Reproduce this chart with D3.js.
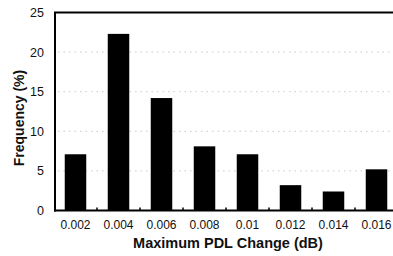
<!DOCTYPE html>
<html>
<head>
<meta charset="utf-8">
<script src="https://cdn.jsdelivr.net/npm/d3@7"></script>
<style>
  html,body{margin:0;padding:0;background:#fff}
  svg{display:block}
</style>
</head>
<body>
<div id="chart"></div>
<script>
// data
const CATS   = ['0.002','0.004','0.006','0.008','0.01','0.012','0.014','0.016'];
const FREQ   = [7.1, 22.3, 14.2, 8.1, 7.1, 3.2, 2.4, 5.2];
const YTICKS = [0, 5, 10, 15, 20, 25];
const GRID   = [5, 10, 15, 20];

const W=393, H=256;
const L=55, R=393, T=12.5, B=210.5;
const FONT='Liberation Sans, Arial, sans-serif';

const svg=d3.select('#chart').append('svg').attr('width',W).attr('height',H);

const x=d3.scaleBand().domain(CATS).range([54,398]).paddingInner(.5).paddingOuter(.25);
const y=d3.scaleLinear().domain([0,25]).range([B,T]);

// faint dotted grid
svg.append('g').selectAll('line').data(GRID).join('line')
  .attr('x1',L+3).attr('x2',R).attr('y1',d=>y(d)).attr('y2',d=>y(d))
  .attr('stroke','#bbb').attr('stroke-width',.8).attr('stroke-dasharray','1.5,4');

// bars
svg.append('g').selectAll('rect').data(FREQ).join('rect')
  .attr('x',(d,i)=>x(CATS[i])).attr('width',x.bandwidth())
  .attr('y',d=>y(d)).attr('height',d=>B-y(d))
  .attr('fill','#000');

// frame: left, top, bottom
svg.append('line').attr('x1',L).attr('x2',L).attr('y1',T-0.5).attr('y2',B+1)
  .attr('stroke','#000').attr('stroke-width',2);
svg.append('line').attr('x1',L-1).attr('x2',R).attr('y1',T).attr('y2',T)
  .attr('stroke','#000').attr('stroke-width',2);
svg.append('line').attr('x1',L-1).attr('x2',R).attr('y1',B).attr('y2',B)
  .attr('stroke','#000').attr('stroke-width',2);

// x ticks between bars
const step=x.step();
svg.append('g').selectAll('line').data(CATS.slice(0,-1)).join('line')
  .attr('x1',d=>x(d)+x.bandwidth()/2+step/2).attr('x2',d=>x(d)+x.bandwidth()/2+step/2)
  .attr('y1',B).attr('y2',B-3).attr('stroke','#000').attr('stroke-width',1.5);

// y tick labels
svg.append('g').selectAll('text').data(YTICKS).join('text')
  .attr('x',44).attr('y',d=>y(d)).attr('dy','0.36em')
  .attr('text-anchor','end').attr('font-family',FONT).attr('font-size','12.5px')
  .attr('fill','#111').text(d=>d);

// x tick labels
svg.append('g').selectAll('text').data(CATS).join('text')
  .attr('x',d=>x(d)+x.bandwidth()/2).attr('y',229)
  .attr('text-anchor','middle').attr('font-family',FONT).attr('font-size','12px')
  .attr('fill','#111').text(d=>d);

// axis titles
svg.append('text').attr('x',228).attr('y',248)
  .attr('text-anchor','middle').attr('font-family',FONT).attr('font-size','14.5px')
  .attr('font-weight','700').attr('fill','#111').text('Maximum PDL Change (dB)');
svg.append('text').attr('transform','translate(24,118) rotate(-90)')
  .attr('text-anchor','middle').attr('font-family',FONT).attr('font-size','14px')
  .attr('font-weight','700').attr('fill','#111').text('Frequency (%)');
</script>
</body>
</html>
